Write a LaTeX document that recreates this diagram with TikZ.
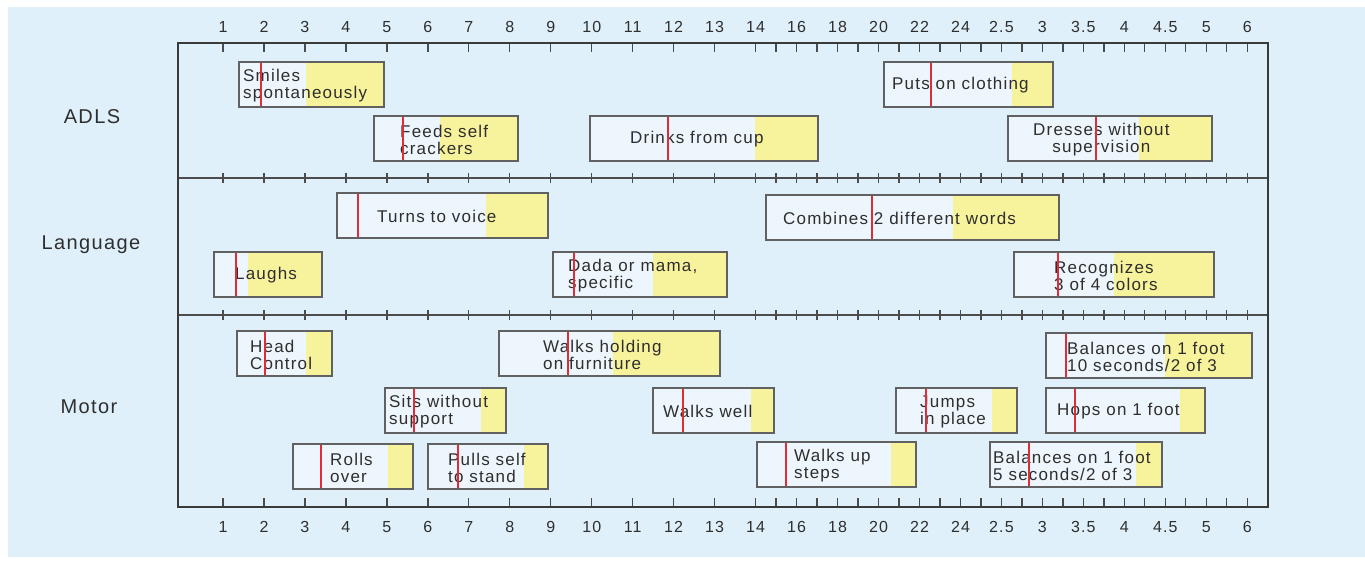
\documentclass[tikz,border=0pt]{standalone}
\usepackage{fontspec}
\setmainfont{Liberation Sans}[LetterSpace=7]
\usepackage{tikz}
\usetikzlibrary{positioning}

\definecolor{bgblue}{HTML}{DFF0FA}
\definecolor{boxwhite}{HTML}{EDF6FC}
\definecolor{bandyellow}{HTML}{F7F29C}
\definecolor{markred}{HTML}{E12B36}
\definecolor{framegray}{HTML}{3A3A3A}
\definecolor{inkgray}{HTML}{2E2E2E}

% one milestone bar: [align] name, left, right, yellow from, red at, top, text x, text
\newcommand{\milestone}[9][left]{%
  \fill[boxwhite] (#3,#7) rectangle (#5,#7+45);
  \fill[bandyellow] (#5,#7) rectangle (#4,#7+45);
  \node[bar, minimum width=#4-#3, anchor=north west] (#2) at (#3,#7) {};
  \node[bartext, align=#1, anchor=west] (#2-txt) at (#8,#7+23.5) {#9};
  \draw[redmark] (#6,#7+0.7) -- (#6,#7+44.3);
}

\begin{document}
\begin{tikzpicture}[
  x=1pt, y=-1pt,
  bar/.style={rectangle, draw=black!62, line width=1.3pt, minimum height=45pt, inner sep=0pt, outer sep=0pt},
  bartext/.style={text=inkgray, inner sep=0pt, font=\fontsize{17}{17}\selectfont},
  redmark/.style={markred, line width=2.2pt},
  rowlabel/.style={text=inkgray, font=\fontsize{20}{22}\selectfont},
  ticklabel/.style={text=inkgray, font=\fontsize{16}{17}\selectfont},
  frame/.style={draw=framegray, line width=2.6pt},
  divider/.style={draw=black!70, line width=1.8pt},
  tick/.style={draw=black!70, line width=1.3pt}
]

% background
\useasboundingbox (0,0) rectangle (1365,563);
\fill[bgblue] (8,7) rectangle (1365,557);

% row titles
\node[rowlabel] (adls) at (92,117) {ADLS};
\node[rowlabel] (language) at (91,245) {Language};
\node[rowlabel] (motor) at (89,407) {Motor};

% age scale, top and bottom
\foreach \lab [count=\i from 0] in {1,2,3,4,5,6,7,8,9,10,11,12,13,14,16,18,20,22,24,2.5,3,3.5,4,4.5,5,6} {
  \node[ticklabel] (top-\i) at (223+40.97*\i,27) {\lab};
  \node[ticklabel] (bot-\i) at (223+40.97*\i,527) {\lab};
}

% ticks
\foreach \t in {0,1,...,13,13.5,14,...,25} {
  \draw[tick] (223+40.97*\t,43) -- (223+40.97*\t,52);
  \draw[tick] (223+40.97*\t,173) -- (223+40.97*\t,183);
  \draw[tick] (223+40.97*\t,310) -- (223+40.97*\t,320);
  \draw[tick] (223+40.97*\t,498) -- (223+40.97*\t,507);
}

% frame and row dividers
\draw[divider] (178,178) -- (1268,178);
\draw[divider] (178,315) -- (1268,315);
\draw[frame] (178,43) rectangle (1268,507);

% ADLS
\milestone{smiles}{239}{384}{306}{261}{62}{243}{Smiles\\spontaneously}
\milestone{feeds}{374}{518}{440}{403}{116}{400}{Feeds self\\crackers}
\milestone{drinks}{590}{818}{755}{668}{116}{630}{Drinks from cup}
\milestone{clothing}{884}{1053}{1012}{931}{62}{892}{Puts on clothing}
\milestone[center]{dresses}{1008}{1212}{1139}{1096}{116}{1033}{Dresses without\\supervision}

% Language
\milestone{turns}{337}{548}{486}{358}{193}{377}{Turns to voice}
\milestone{laughs}{214}{322}{248}{236}{252}{235}{Laughs}
\milestone{combines}{766}{1059}{953}{872}{195}{783}{Combines 2 different words}
\milestone{dada}{553}{727}{653}{574}{252}{568}{Dada or mama,\\specific}
\milestone{colors}{1014}{1214}{1114}{1058}{252}{1054}{Recognizes\\3 of 4 colors}

% Motor
\milestone{head}{237}{332}{306}{265}{331}{250}{Head\\Control}
\milestone{holding}{499}{720}{613}{568}{331}{543}{Walks holding\\on furniture}
\milestone{balance10}{1046}{1252}{1165}{1066}{333}{1067}{Balances on 1 foot\\10 seconds/2 of 3}
\milestone{sits}{385}{506}{481}{414}{388}{389}{Sits without\\support}
\milestone{walkswell}{653}{774}{751}{683}{388}{663}{Walks well}
\milestone{jumps}{896}{1017}{992}{926}{388}{920}{Jumps\\in place}
\milestone{hops}{1046}{1205}{1180}{1075}{388}{1057}{Hops on 1 foot}
\milestone{rolls}{293}{413}{388}{321}{444}{330}{Rolls\\over}
\milestone{pulls}{428}{548}{524}{458}{444}{448}{Pulls self\\to stand}
\milestone{steps}{757}{916}{891}{786}{442}{794}{Walks up\\steps}
\milestone{balance5}{990}{1162}{1136}{1029}{442}{993}{Balances on 1 foot\\5 seconds/2 of 3}

\end{tikzpicture}
\end{document}
